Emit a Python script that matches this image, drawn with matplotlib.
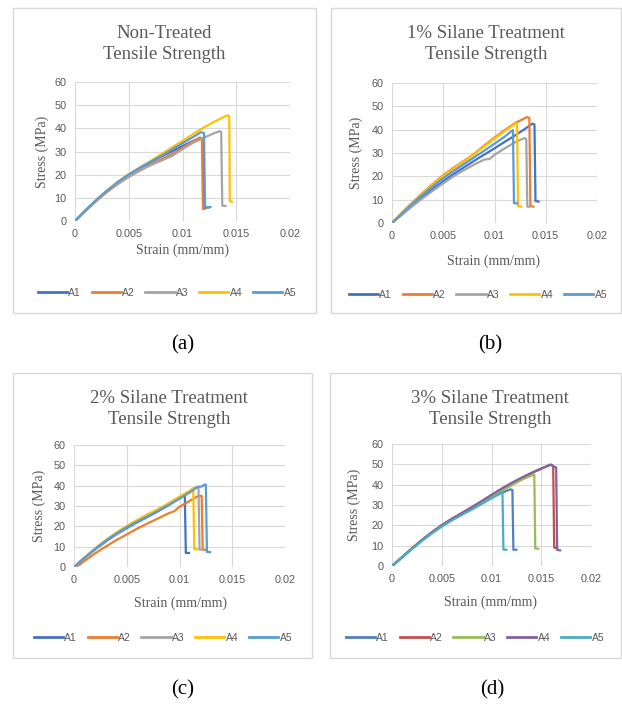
import matplotlib
matplotlib.use("Agg")
import matplotlib.pyplot as plt
from matplotlib.patches import Rectangle

W, H = 622, 707

# ---------------- data ----------------
series_labels = ["A1", "A2", "A3", "A4", "A5"]
x_ticks = [0, 0.005, 0.01, 0.015, 0.02]
x_tick_labels = ["0", "0.005", "0.01", "0.015", "0.02"]
y_ticks = [0, 10, 20, 30, 40, 50, 60]

titles = ["Non-Treated\nTensile Strength", "1% Silane Treatment\nTensile Strength",
          "2% Silane Treatment\nTensile Strength", "3% Silane Treatment\nTensile Strength"]
panel_tags = ["(a)", "(b)", "(c)", "(d)"]

# (a) Non-treated
a_A1_x = [0, 0.001, 0.002, 0.003, 0.004, 0.005, 0.006, 0.007, 0.008, 0.009, 0.010, 0.011, 0.0117, 0.0119, 0.0120, 0.0124]
a_A1_y = [0, 4.6, 9.0, 13.0, 16.6, 19.8, 22.6, 25.2, 27.8, 30.0, 32.4, 34.6, 35.8, 35.2, 5.8, 5.8]
a_A2_x = [0, 0.001, 0.002, 0.003, 0.004, 0.005, 0.006, 0.007, 0.008, 0.009, 0.010, 0.011, 0.0116, 0.0118, 0.0119, 0.0121]
a_A2_y = [0, 4.4, 8.7, 12.6, 16.0, 19.0, 21.7, 24.2, 26.6, 28.8, 31.6, 34.4, 36.1, 35.6, 5.2, 5.3]
a_A3_x = [0, 0.001, 0.002, 0.003, 0.004, 0.005, 0.006, 0.007, 0.008, 0.009, 0.010, 0.011, 0.012, 0.013, 0.0135, 0.0136, 0.0137, 0.0140]
a_A3_y = [0, 4.5, 8.8, 12.7, 16.2, 19.2, 21.8, 24.0, 26.0, 28.0, 31.0, 33.8, 36.0, 38.0, 38.8, 38.2, 6.6, 6.5]
a_A4_x = [0, 0.001, 0.002, 0.003, 0.004, 0.005, 0.006, 0.007, 0.008, 0.009, 0.010, 0.011, 0.012, 0.013, 0.0138, 0.0142, 0.01435, 0.0144, 0.0146]
a_A4_y = [0, 4.7, 9.2, 13.3, 17.0, 20.2, 23.0, 25.8, 28.8, 31.7, 34.6, 37.6, 40.4, 43.0, 44.8, 45.6, 45.0, 8.6, 8.3]
a_A5_x = [0, 0.001, 0.002, 0.003, 0.004, 0.005, 0.006, 0.007, 0.008, 0.009, 0.010, 0.011, 0.0117, 0.0120, 0.0121, 0.0126]
a_A5_y = [0, 4.8, 9.2, 13.2, 16.9, 20.1, 22.9, 25.5, 28.0, 30.8, 33.6, 36.3, 38.3, 38.0, 6.0, 6.0]

# (b) 1% silane
b_A1_x = [0, 0.001, 0.002, 0.003, 0.004, 0.005, 0.006, 0.007, 0.008, 0.009, 0.010, 0.011, 0.012, 0.013, 0.0137, 0.0139, 0.0140, 0.0143]
b_A1_y = [0, 3.8, 7.6, 11.2, 14.7, 17.9, 21.0, 23.8, 26.6, 29.3, 32.0, 34.8, 37.5, 40.4, 42.6, 42.2, 9.4, 9.2]
b_A2_x = [0, 0.001, 0.002, 0.003, 0.004, 0.005, 0.006, 0.007, 0.008, 0.009, 0.010, 0.011, 0.012, 0.0128, 0.0132, 0.0134, 0.0135, 0.0138]
b_A2_y = [0, 4.6, 8.9, 13.0, 16.9, 20.5, 23.7, 26.6, 29.6, 33.2, 36.6, 39.8, 42.8, 44.6, 45.4, 45.0, 7.2, 7.0]
b_A3_x = [0, 0.001, 0.002, 0.003, 0.004, 0.005, 0.006, 0.007, 0.008, 0.009, 0.0095, 0.010, 0.011, 0.012, 0.0129, 0.0131, 0.0132, 0.0134]
b_A3_y = [0, 3.6, 7.2, 10.6, 13.9, 17.0, 20.0, 22.6, 25.0, 27.2, 27.4, 29.2, 32.0, 34.6, 36.4, 36.0, 7.0, 7.0]
b_A4_x = [0, 0.001, 0.002, 0.003, 0.004, 0.005, 0.006, 0.007, 0.008, 0.009, 0.010, 0.011, 0.0118, 0.0121, 0.0122, 0.0123, 0.0126]
b_A4_y = [0, 4.5, 8.8, 12.9, 16.7, 20.2, 23.4, 26.4, 29.5, 32.8, 36.2, 39.4, 41.8, 42.8, 42.0, 7.2, 7.0]
b_A5_x = [0, 0.001, 0.002, 0.003, 0.004, 0.005, 0.006, 0.007, 0.008, 0.009, 0.010, 0.011, 0.0116, 0.0118, 0.0119, 0.0122]
b_A5_y = [0, 4.2, 8.3, 12.2, 15.8, 19.2, 22.3, 25.2, 28.1, 31.0, 34.0, 37.0, 39.2, 39.8, 8.5, 8.4]

# (c) 2% silane
c_A1_x = [0, 0.001, 0.002, 0.003, 0.004, 0.005, 0.006, 0.007, 0.008, 0.009, 0.010, 0.0105, 0.0106, 0.0109]
c_A1_y = [0, 4.4, 8.6, 12.5, 16.0, 19.1, 22.0, 24.7, 27.5, 30.5, 33.8, 35.6, 6.9, 6.9]
c_A2_x = [0, 0.0005, 0.001, 0.002, 0.003, 0.004, 0.005, 0.006, 0.007, 0.008, 0.009, 0.0095, 0.010, 0.011, 0.0118, 0.0121, 0.0122, 0.0125]
c_A2_y = [0, 1.0, 3.0, 6.7, 10.0, 13.2, 16.0, 18.9, 21.5, 24.0, 26.5, 27.4, 29.6, 32.6, 35.0, 35.0, 8.5, 8.4]
c_A3_x = [0, 0.001, 0.002, 0.003, 0.004, 0.005, 0.006, 0.007, 0.008, 0.009, 0.010, 0.011, 0.0117, 0.0118, 0.0119, 0.0122]
c_A3_y = [0, 4.5, 8.8, 12.8, 16.3, 19.5, 22.4, 25.3, 28.2, 31.3, 34.4, 37.3, 39.5, 39.2, 8.6, 8.5]
c_A4_x = [0, 0.001, 0.002, 0.003, 0.004, 0.005, 0.006, 0.007, 0.008, 0.009, 0.010, 0.011, 0.0113, 0.0114, 0.0117]
c_A4_y = [0, 4.7, 9.1, 13.2, 16.9, 20.2, 23.2, 26.0, 28.6, 31.4, 34.6, 37.6, 38.8, 8.8, 8.7]
c_A5_x = [0, 0.001, 0.002, 0.003, 0.004, 0.005, 0.006, 0.007, 0.008, 0.009, 0.010, 0.011, 0.0117, 0.0121, 0.0124, 0.0125, 0.0126, 0.0129]
c_A5_y = [0, 4.6, 8.9, 12.9, 16.4, 19.5, 22.3, 25.0, 27.7, 30.6, 33.6, 36.8, 39.3, 39.6, 40.6, 40.4, 7.4, 7.3]

# (d) 3% silane
d_A1_x = [0, 0.001, 0.002, 0.003, 0.004, 0.005, 0.006, 0.007, 0.008, 0.009, 0.010, 0.011, 0.0119, 0.0121, 0.0122, 0.0125]
d_A1_y = [0, 4.2, 8.5, 12.6, 16.4, 19.8, 22.7, 25.4, 28.0, 30.8, 33.6, 35.9, 37.7, 37.4, 8.0, 8.0]
d_A2_x = [0, 0.001, 0.002, 0.003, 0.004, 0.005, 0.006, 0.007, 0.008, 0.009, 0.010, 0.011, 0.012, 0.013, 0.014, 0.015, 0.0159, 0.0162, 0.0163, 0.0166]
d_A2_y = [0, 4.3, 8.7, 12.8, 16.6, 20.1, 23.2, 26.0, 28.8, 31.7, 34.8, 37.8, 40.6, 43.2, 45.6, 47.8, 49.9, 49.2, 9.0, 8.8]
d_A3_x = [0, 0.001, 0.002, 0.003, 0.004, 0.005, 0.006, 0.007, 0.008, 0.009, 0.010, 0.011, 0.012, 0.013, 0.0138, 0.0143, 0.0144, 0.0147]
d_A3_y = [0, 4.2, 8.5, 12.5, 16.3, 19.8, 22.8, 25.6, 28.3, 31.1, 34.0, 36.9, 39.6, 42.3, 44.0, 45.0, 8.6, 8.5]
d_A4_x = [0, 0.001, 0.002, 0.003, 0.004, 0.005, 0.006, 0.007, 0.008, 0.009, 0.010, 0.011, 0.012, 0.013, 0.014, 0.015, 0.0160, 0.0163, 0.0165, 0.0166, 0.0169]
d_A4_y = [0, 4.3, 8.6, 12.7, 16.5, 20.0, 23.1, 26.0, 28.9, 31.9, 35.0, 38.0, 40.8, 43.4, 45.8, 48.0, 49.8, 48.8, 48.5, 7.9, 7.7]
d_A5_x = [0, 0.001, 0.002, 0.003, 0.004, 0.005, 0.006, 0.007, 0.008, 0.009, 0.010, 0.0107, 0.0111, 0.0112, 0.0115]
d_A5_y = [0, 4.1, 8.3, 12.3, 16.0, 19.4, 22.4, 25.1, 27.7, 30.5, 33.3, 35.2, 36.4, 8.0, 8.0]

colors_office = ["#4472C4", "#ED7D31", "#A5A5A5", "#FFC000", "#5B9BD5"]
colors_2007 = ["#4F81BD", "#C0504D", "#9BBB59", "#8064A2", "#4BACC6"]

panel_series = [
    [(a_A1_x, a_A1_y), (a_A2_x, a_A2_y), (a_A3_x, a_A3_y), (a_A4_x, a_A4_y), (a_A5_x, a_A5_y)],
    [(b_A1_x, b_A1_y), (b_A2_x, b_A2_y), (b_A3_x, b_A3_y), (b_A4_x, b_A4_y), (b_A5_x, b_A5_y)],
    [(c_A1_x, c_A1_y), (c_A2_x, c_A2_y), (c_A3_x, c_A3_y), (c_A4_x, c_A4_y), (c_A5_x, c_A5_y)],
    [(d_A1_x, d_A1_y), (d_A2_x, d_A2_y), (d_A3_x, d_A3_y), (d_A4_x, d_A4_y), (d_A5_x, d_A5_y)],
]
panel_colors = [colors_office, colors_office, colors_office, colors_2007]

# ---------------- layout (pixels) ----------------
frames = [(13, 8, 316, 313), (331, 8, 621, 313), (13, 373, 312, 658), (330, 373, 621, 658)]
plots = [(75, 82, 290, 221), (392, 83, 597, 223), (74, 445, 285, 567), (392, 444, 591, 566)]
title_pos = [(164, 44), (486, 44), (169, 409), (490, 409)]
ylabel_pos = [(42, 152), (356, 153), (39, 506), (354, 505)]
xlabel_pos = [(182, 250), (494, 261), (180, 603), (491, 602)]
legend_pos = [(167, 293), (478, 295), (163, 638), (475, 638)]
tag_pos = [(183, 345), (490, 345), (183, 690), (492, 690)]

fig = plt.figure(figsize=(W / 100, H / 100), dpi=100)
fig.patch.set_facecolor("white")

def fx(px):
    return px / W

def fy(py):
    return 1 - py / H

SERIF = ["Liberation Serif", "DejaVu Serif"]
SANS = ["Liberation Sans", "DejaVu Sans"]
TXT = "#595959"

for i in range(4):
    x0, y0, x1, y1 = frames[i]
    fig.patches.append(Rectangle((fx(x0), fy(y1)), fx(x1) - fx(x0), fy(y0) - fy(y1),
                                 transform=fig.transFigure, fill=False,
                                 edgecolor="#D9D9D9", linewidth=1.0))
    px0, py0, px1, py1 = plots[i]
    ax = fig.add_axes([fx(px0), fy(py1), fx(px1) - fx(px0), fy(py0) - fy(py1)])
    for k, (xs, ys) in enumerate(panel_series[i]):
        ax.plot(xs, ys, color=panel_colors[i][k], lw=1.6, label=series_labels[k],
                solid_joinstyle="round")
    ax.set_xlim(0, 0.02)
    ax.set_ylim(0, 60)
    ax.set_xticks(x_ticks)
    ax.set_xticklabels(x_tick_labels)
    ax.set_yticks(y_ticks)
    ax.grid(True, color="#D9D9D9", lw=0.8)
    ax.set_axisbelow(True)
    for s in ax.spines.values():
        s.set_visible(False)
    ax.tick_params(length=0, labelsize=7.8, labelcolor=TXT, pad=6)
    for lab in ax.get_xticklabels() + ax.get_yticklabels():
        lab.set_family(SANS)
    ax.set_facecolor("white")

    tx, ty = title_pos[i]
    fig.text(fx(tx), fy(ty), titles[i], ha="center", va="center", family=SERIF,
             fontsize=13.5, color=TXT, linespacing=1.3)
    lx, ly = ylabel_pos[i]
    fig.text(fx(lx), fy(ly), "Stress (MPa)", ha="center", va="center", rotation=90,
             family=SERIF, fontsize=10, color=TXT)
    sx, sy = xlabel_pos[i]
    fig.text(fx(sx), fy(sy), "Strain (mm/mm)", ha="center", va="center",
             family=SERIF, fontsize=10, color=TXT)
    gx, gy = legend_pos[i]
    leg = ax.legend(loc="center", bbox_to_anchor=(fx(gx), fy(gy)),
                    bbox_transform=fig.transFigure, ncol=5, frameon=False,
                    handlelength=2.8, handletextpad=0.15, columnspacing=1.0,
                    prop={"family": SANS, "size": 7.5})
    for t in leg.get_texts():
        t.set_color(TXT)
    for h in leg.get_lines():
        h.set_linewidth(2.0)
    gx2, gy2 = tag_pos[i]
    fig.text(fx(gx2), fy(gy2), panel_tags[i], ha="center", va="center",
             family=SERIF, fontsize=15, color="black")

fig.savefig("out.png", dpi=100, facecolor="white")
